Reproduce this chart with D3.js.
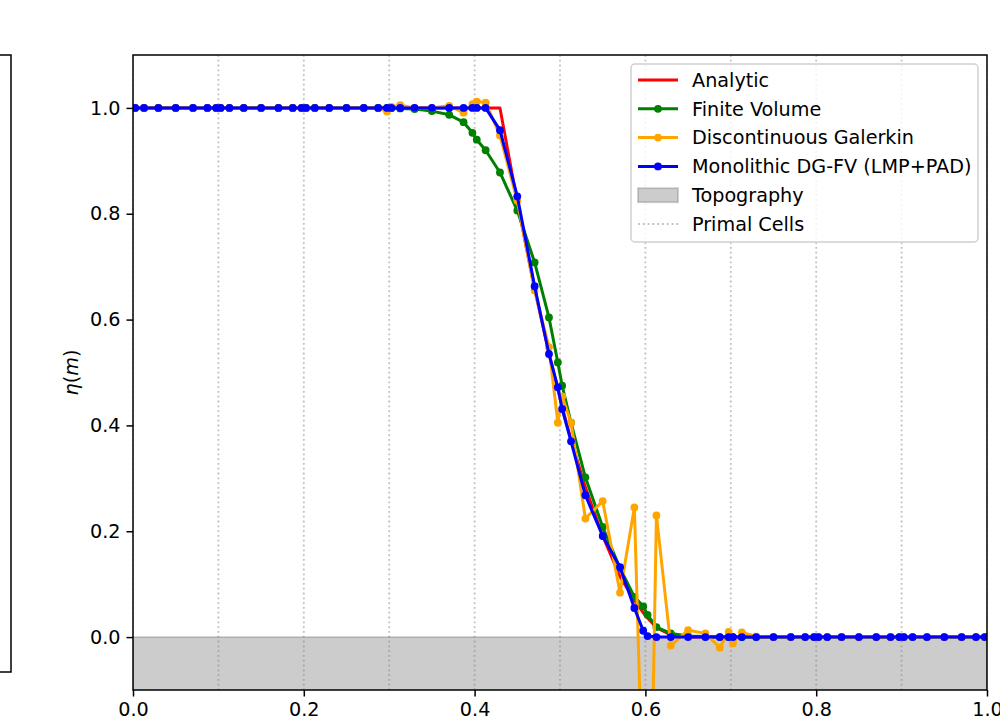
<!DOCTYPE html>
<html>
<head>
<meta charset="utf-8">
<script src="https://cdn.jsdelivr.net/npm/d3@7"></script>
<style>
  body { margin: 0; background: #fff; }
  svg { font-family: "DejaVu Sans", sans-serif; }
</style>
</head>
<body>
<div id="chart"></div>
<script>
// Primal cell edges and the 7 Gauss nodes inside each cell (fraction of cell width)
const cellEdges = [0, 0.1, 0.2, 0.3, 0.4, 0.5, 0.6, 0.7, 0.8, 0.9, 1.0];
const nodeOffsets = [0.0254, 0.1292, 0.2971, 0.5, 0.7029, 0.8708, 0.9746];

// Analytic solution (no markers)
const analyticX = [0, 0.4297, 0.45, 0.4703, 0.4871, 0.4975, 0.5025, 0.5129, 0.5297, 0.55,
    0.5703, 0.5871, 0.5975, 0.6025, 0.6129, 0.6297, 0.65, 1.0];
const analyticEta = [1.0, 1.0, 0.822, 0.658, 0.536, 0.468, 0.435, 0.373, 0.283, 0.191,
    0.114, 0.070, 0.046, 0.036, 0.018, 0.004, 0.0, 0.0];

// Finite Volume, one row per primal cell
const fvEta = [
    1, 1, 1, 1, 1, 1, 1,
    1, 1, 1, 1, 1, 1, 1,
    1, 1, 1, 1, 1, 1, 1,
    1.0, 0.999, 0.998, 0.994, 0.987, 0.973, 0.953,
    0.940, 0.920, 0.878, 0.806, 0.708, 0.604, 0.519,
    0.475, 0.405, 0.302, 0.208, 0.130, 0.076, 0.058,
    0.042, 0.019, 0.007, 0.002, 0.001, 0, 0,
    0, 0, 0, 0, 0, 0, 0,
    0, 0, 0, 0, 0, 0, 0,
    0, 0, 0, 0, 0, 0, 0
];

// Discontinuous Galerkin
const dgEta = [
    1, 1, 1, 1, 1, 1, 1,
    1, 1, 1, 1, 1, 1, 1,
    1, 1, 1, 1, 1, 1, 0.993,
    1.002, 1.005, 1.0, 1.0, 1.004, 0.991, 1.007,
    1.012, 1.010, 0.948, 0.825, 0.655, 0.548, 0.405,
    0.455, 0.405, 0.224, 0.257, 0.084, 0.245, -0.33,
    -0.70, 0.230, -0.016, 0.013, 0.007, -0.020, 0.010,
    -0.012, 0.009, 0.001, 0, 0, 0, 0,
    0, 0, 0, 0, 0, 0, 0,
    0, 0, 0, 0, 0, 0, 0
];

// Monolithic DG-FV (LMP+PAD)
const monoEta = [
    1, 1, 1, 1, 1, 1, 1,
    1, 1, 1, 1, 1, 1, 1,
    1, 1, 1, 1, 1, 1, 1,
    1, 1, 1, 1, 1, 1, 1,
    1.0, 1.0, 0.958, 0.833, 0.663, 0.535, 0.472,
    0.431, 0.370, 0.268, 0.191, 0.132, 0.055, 0.012,
    0.002, 0.0, 0, 0, 0, 0, 0,
    0, 0, 0, 0, 0, 0, 0,
    0, 0, 0, 0, 0, 0, 0,
    0, 0, 0, 0, 0, 0, 0
];

// Topography (bed level)
const topoX = [0, 1];
const topoZ = [0, 0];

const xTicks = [0, 0.2, 0.4, 0.6, 0.8, 1.0];
const yTicks = [0, 0.2, 0.4, 0.6, 0.8, 1.0];

const width = 1000;
const height = 728;
const margin = { top: 55, right: 13, bottom: 38, left: 133 };
const fontSize = 19.2;

const svg = d3.select("#chart")
    .append("svg")
    .attr("width", width)
    .attr("height", height);

// Scales
const x = d3.scaleLinear()
    .domain([0, 1])
    .range([margin.left, width - margin.right]);

const y = d3.scaleLinear()
    .domain([-0.1, 1.1])
    .range([height - margin.bottom, margin.top]);

// node positions from the cell edges
const xNodes = cellEdges.slice(0, -1)
    .flatMap((c, i) => nodeOffsets.map(o => c + o * (cellEdges[i + 1] - c)));

// partial frame of the neighbouring panel on the left
svg.append("rect")
    .attr("x", -10).attr("y", 55)
    .attr("width", 21).attr("height", 617)
    .attr("fill", "none")
    .attr("stroke", "#000")
    .attr("stroke-width", 1.5);

svg.append("clipPath").attr("id", "plotClip")
    .append("rect")
    .attr("x", x(0)).attr("y", y(1.1))
    .attr("width", x(1) - x(0)).attr("height", y(-0.1) - y(1.1));

const plot = svg.append("g").attr("clip-path", "url(#plotClip)");

// Topography
const topo = topoX.map((d, i) => ({ x: d, z: topoZ[i] }));
plot.append("path")
    .datum(topo)
    .attr("d", d3.area().x(d => x(d.x)).y0(y(-0.1) + 5).y1(d => y(d.z)))
    .attr("fill", "#cccccc")
    .attr("stroke", "rgba(128,128,128,0.4)")
    .attr("stroke-width", 1.8);

// Primal cells
plot.selectAll(".cell")
    .data(cellEdges)
    .enter()
    .append("line")
    .attr("x1", d => x(d)).attr("x2", d => x(d))
    .attr("y1", y(1.1)).attr("y2", y(-0.1))
    .attr("stroke", "gray")
    .attr("stroke-opacity", 0.5)
    .attr("stroke-width", 1.8)
    .attr("stroke-dasharray", "1.8,3");

const line = d3.line().x(d => x(d.x)).y(d => y(d.v));

// Analytic
plot.append("path")
    .datum(analyticX.map((d, i) => ({ x: d, v: analyticEta[i] })))
    .attr("d", line)
    .attr("fill", "none")
    .attr("stroke", "red")
    .attr("stroke-width", 3)
    .attr("stroke-linejoin", "round");

const series = [
    { name: "Finite Volume", color: "green", values: fvEta },
    { name: "Discontinuous Galerkin", color: "orange", values: dgEta },
    { name: "Monolithic DG-FV (LMP+PAD)", color: "blue", values: monoEta }
];

series.forEach(s => {
    const pts = xNodes.map((d, i) => ({ x: d, v: s.values[i] }));
    const g = plot.append("g");
    g.append("path")
        .datum(pts)
        .attr("d", line)
        .attr("fill", "none")
        .attr("stroke", s.color)
        .attr("stroke-width", 3)
        .attr("stroke-linejoin", "round");
    g.selectAll("circle")
        .data(pts)
        .enter()
        .append("circle")
        .attr("cx", d => x(d.x))
        .attr("cy", d => y(d.v))
        .attr("r", 3.9)
        .attr("fill", s.color);
});

// Axes
const xAxis = svg.append("g")
    .attr("transform", `translate(0,${y(-0.1)})`)
    .call(d3.axisBottom(x).tickValues(xTicks).tickFormat(d3.format(".1f")).tickSize(6.5).tickPadding(6));

const yAxis = svg.append("g")
    .attr("transform", `translate(${x(0)},0)`)
    .call(d3.axisLeft(y).tickValues(yTicks).tickFormat(d3.format(".1f")).tickSize(6.5).tickPadding(6));

[xAxis, yAxis].forEach(a => {
    a.select(".domain").remove();
    a.selectAll(".tick line").attr("stroke", "#000").attr("stroke-width", 1.5);
    a.selectAll(".tick text")
        .attr("font-family", "DejaVu Sans")
        .attr("font-size", fontSize)
        .attr("fill", "#000");
});

// frame
svg.append("rect")
    .attr("x", x(0)).attr("y", y(1.1))
    .attr("width", x(1) - x(0)).attr("height", y(-0.1) - y(1.1))
    .attr("fill", "none")
    .attr("stroke", "#000")
    .attr("stroke-width", 1.5);

// y label
const ylab = svg.append("text")
    .attr("transform", `translate(78,${(y(1.1) + y(-0.1)) / 2}) rotate(-90)`)
    .attr("text-anchor", "middle")
    .attr("font-size", fontSize)
    .attr("fill", "#000");
ylab.append("tspan").attr("font-style", "italic").text("η");
ylab.append("tspan").text("(");
ylab.append("tspan").attr("font-style", "italic").text("m");
ylab.append("tspan").text(")");

// Legend
const legend = svg.append("g").attr("transform", "translate(631,64)");
legend.append("rect")
    .attr("width", 347).attr("height", 178)
    .attr("rx", 4)
    .attr("fill", "rgba(255,255,255,0.8)")
    .attr("stroke", "#d0d0d0")
    .attr("stroke-width", 1.5);

const legendItems = [
    { name: "Analytic", color: "red", type: "line" },
    { name: "Finite Volume", color: "green", type: "marker" },
    { name: "Discontinuous Galerkin", color: "orange", type: "marker" },
    { name: "Monolithic DG-FV (LMP+PAD)", color: "blue", type: "marker" },
    { name: "Topography", color: "#cccccc", type: "patch" },
    { name: "Primal Cells", color: "gray", type: "dotted" }
];

legendItems.forEach((d, i) => {
    const g = legend.append("g").attr("transform", `translate(0,${16 + i * 28.8})`);
    if (d.type === "patch") {
        g.append("rect")
            .attr("x", 7).attr("y", -7)
            .attr("width", 40).attr("height", 14)
            .attr("fill", "#cccccc")
            .attr("stroke", "rgba(128,128,128,0.4)")
            .attr("stroke-width", 1.8);
    } else if (d.type === "dotted") {
        g.append("line")
            .attr("x1", 7).attr("x2", 47)
            .attr("stroke", "gray")
            .attr("stroke-opacity", 0.5)
            .attr("stroke-width", 1.8)
            .attr("stroke-dasharray", "1.8,3");
    } else {
        g.append("line")
            .attr("x1", 7).attr("x2", 47)
            .attr("stroke", d.color)
            .attr("stroke-width", 3);
        if (d.type === "marker") {
            g.append("circle").attr("cx", 27).attr("r", 3.9).attr("fill", d.color);
        }
    }
    g.append("text")
        .attr("x", 61)
        .attr("dy", "0.35em")
        .attr("font-size", fontSize)
        .attr("fill", "#000")
        .text(d.name);
});
</script>
</body>
</html>
